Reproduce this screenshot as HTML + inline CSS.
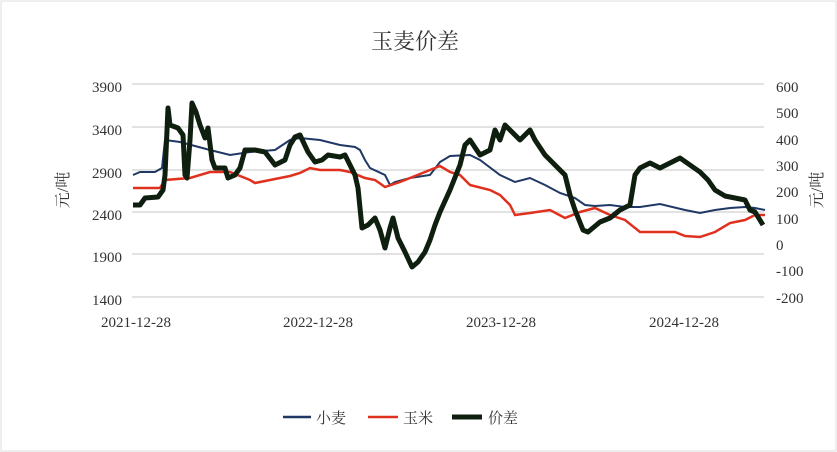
<!DOCTYPE html>
<html><head><meta charset="utf-8"><style>
body{margin:0;background:#fff;}
svg{display:block;font-family:"Liberation Serif","Noto Serif CJK SC",serif;}
</style></head><body>
<svg width="837" height="452" viewBox="0 0 837 452">
<rect x="1" y="1" width="835" height="450" fill="#fff" stroke="#ddd"/>
<text x="415" y="49" font-size="22" text-anchor="middle" fill="#333">玉麦价差</text>
<g stroke="#d9d9d9" stroke-width="1.5">
<line x1="132" y1="84" x2="764" y2="84"/><line x1="132" y1="127" x2="764" y2="127"/>
<line x1="132" y1="170" x2="764" y2="170"/><line x1="132" y1="212" x2="764" y2="212"/>
<line x1="132" y1="254" x2="764" y2="254"/><line x1="132" y1="297" x2="764" y2="297"/>
</g>
<g font-size="15" fill="#333" text-anchor="end">
<text x="122" y="92">3900</text><text x="122" y="135">3400</text><text x="122" y="178">2900</text>
<text x="122" y="220">2400</text><text x="122" y="262">1900</text><text x="122" y="305">1400</text>
</g>
<g font-size="15" fill="#333" text-anchor="start">
<text x="776" y="92">600</text><text x="776" y="118">500</text><text x="776" y="145">400</text>
<text x="776" y="171">300</text><text x="776" y="197">200</text><text x="776" y="224">100</text>
<text x="776" y="250">0</text><text x="776" y="276">-100</text><text x="776" y="303">-200</text>
</g>
<g font-size="15" fill="#333" text-anchor="middle">
<text x="136" y="327">2021-12-28</text><text x="318" y="327">2022-12-28</text>
<text x="501" y="327">2023-12-28</text><text x="684" y="327">2024-12-28</text>
</g>
<text transform="translate(68,190) rotate(-90)" font-size="16" fill="#333" text-anchor="middle">元/吨</text>
<text transform="translate(822,190) rotate(-90)" font-size="16" fill="#333" text-anchor="middle">元/吨</text>
<polyline fill="none" stroke="#1f3864" stroke-width="2" points="133,175 140,172 155,172 162,168 165,140 180,142 210,150 230,155 250,152 275,150 290,140 300,138 320,140 340,145 355,147 360,150 365,160 370,168 385,175 390,185 395,182 410,178 430,175 440,162 450,156 470,155 480,160 500,175 515,182 530,178 545,185 560,193 575,198 585,205 595,206 610,205 625,207 640,207 660,204 685,210 700,213 715,210 730,208 745,207 755,208 765,210"/>
<polyline fill="none" stroke="#e0301e" stroke-width="2.5" points="133,188 160,188 165,180 190,178 210,172 230,172 250,180 255,183 280,178 290,176 300,173 310,168 320,170 340,170 350,172 365,178 375,180 385,187 400,182 410,178 430,170 440,166 450,172 460,175 470,185 490,190 500,195 510,205 515,215 530,213 550,210 565,218 580,212 595,208 610,215 625,220 640,232 660,232 675,232 685,236 700,237 715,232 730,223 745,220 755,215 765,215"/>
<polyline fill="none" stroke="#0f1f0f" stroke-width="5" stroke-linejoin="round" points="133,205 140,205 145,198 158,197 163,190 165,175 168,108 170,125 178,128 183,135 185,175 187,178 190,140 192,103 196,112 200,125 205,138 208,128 212,160 215,168 225,168 228,178 235,175 240,168 245,150 255,150 265,152 275,165 285,160 290,145 295,137 300,135 308,152 315,162 322,160 328,155 340,157 345,155 350,165 355,175 358,188 362,228 368,225 375,218 380,230 385,248 390,228 393,218 398,238 405,252 412,267 418,262 425,252 430,240 435,225 440,212 450,190 460,165 465,145 470,140 480,155 490,150 495,130 500,140 505,125 520,140 530,130 535,140 545,155 555,165 560,170 565,175 570,195 575,210 583,230 588,232 600,222 610,218 620,210 630,205 635,175 640,168 650,163 660,168 670,163 680,158 690,165 700,172 708,180 715,190 725,196 735,198 745,200 750,210 755,212 763,225"/>
<g font-size="15" fill="#333">
<line x1="283" y1="417" x2="311" y2="417" stroke="#1f3864" stroke-width="2.5"/><text x="316" y="423">小麦</text>
<line x1="368" y1="417" x2="398" y2="417" stroke="#e0301e" stroke-width="2.5"/><text x="403" y="423">玉米</text>
<line x1="452" y1="417" x2="482" y2="417" stroke="#0f1f0f" stroke-width="5"/><text x="488" y="423">价差</text>
</g>
</svg>
</body></html>
